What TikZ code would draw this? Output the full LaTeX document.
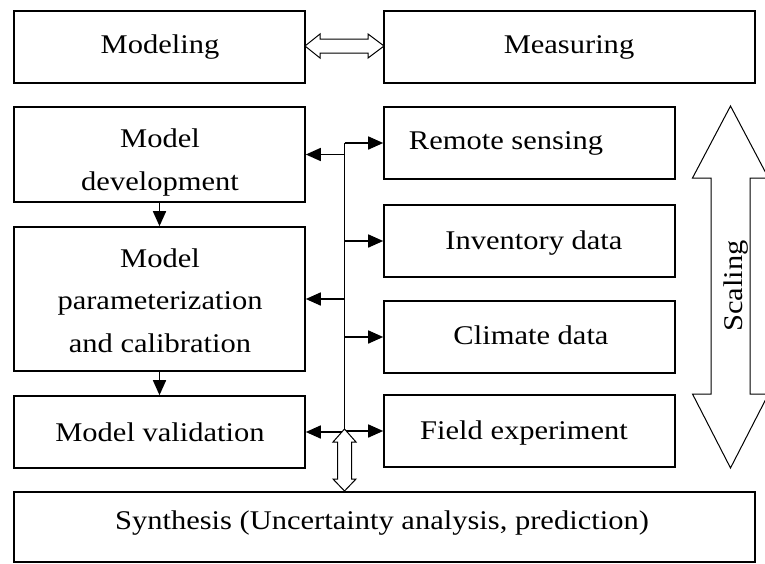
\documentclass[tikz,border=0pt]{standalone}
\usepackage{fontspec}
\setmainfont[FakeStretch=1.13]{Liberation Serif}
\usetikzlibrary{arrows.meta}
\begin{document}
\begin{tikzpicture}[x=1pt,y=-1pt,
  box/.style={draw,line width=1.6pt,inner sep=0pt,minimum width=291pt,minimum height=72pt},
  lbl/.style={anchor=base,align=center,inner sep=0pt,font=\fontsize{27}{42.5}\selectfont},
  arr/.style={line width=1.6pt,-{Triangle[length=15pt,width=13pt]}},
  hollow/.style={draw,line width=1pt,fill=white,line join=miter}]
\useasboundingbox (0,0) rectangle (765,563);
% boxes
\node[box,minimum width=291pt] (mdl) at (159.5,47) {};
\node[box,minimum width=371pt] (meas) at (569.5,47) {};
\node[box,minimum height=95pt] (dev) at (159.5,154.5) {};
\node[box,minimum height=144pt] (par) at (159.5,299) {};
\node[box] (val) at (159.5,432) {};
\node[box] (rs) at (529.5,143) {};
\node[box] (inv) at (529.5,241) {};
\node[box] (clim) at (529.5,337) {};
\node[box] (fld) at (529.5,431) {};
\node[box,minimum width=741pt,minimum height=70pt] (syn) at (384.5,527) {};
% labels
\node[lbl] (tmdl) at (160,53) {Modeling};
\node[lbl] (tmeas) at (569,53) {Measuring};
\node[lbl] (tdev) at (160,190) {Model\\development};
\node[lbl] (tpar) at (160,352) {Model\\parameterization\\and calibration};
\node[lbl] (tval) at (160,441) {Model validation};
\node[lbl] (trs) at (506,149) {Remote sensing};
\node[lbl] (tinv) at (534,249) {Inventory data};
\node[lbl] (tclim) at (531,344) {Climate data};
\node[lbl] (tfld) at (524,439) {Field experiment};
\node[lbl] (tsyn) at (382,529) {Synthesis (Uncertainty analysis, prediction)};
% bus
\coordinate (bt) at (344.5,143);
\coordinate (bb) at (344.5,432);
\draw[line width=1.6pt] (bt) -- (bb);
\draw[arr] (bt) -- (rs.west);
\draw[arr] (bt |- inv.west) -- (inv.west);
\draw[arr] (bt |- clim.west) -- (clim.west);
\draw[arr] (bt |- fld.west) -- (fld.west);
\draw[arr] (bt |- dev.east) -- (dev.east);
\draw[arr] (bt |- par.east) -- (par.east);
\draw[arr] (bt |- val.east) -- (val.east);
\draw[arr] (dev.south) -- (par.north);
\draw[arr] (par.south) -- (val.north);
% hollow double arrow Modeling <-> Measuring
\draw[hollow] (305,46) -- (320,34) -- (320,39) -- (368,39) -- (368,34) -- (384,46)
  -- (368,58) -- (368,53) -- (320,53) -- (320,58) -- cycle;
% hollow vertical double arrow to Synthesis
\draw[hollow] (344.5,429) -- (356,442) -- (351.5,442) -- (351.5,479) -- (356,479) -- (344.5,491)
  -- (333,479) -- (337.5,479) -- (337.5,442) -- (333,442) -- cycle;
% Scaling arrow
\draw[hollow] (730.5,106) -- (768.5,178) -- (750,178) -- (750,394) -- (768.5,394) -- (730.5,468)
  -- (692.5,394) -- (711,394) -- (711,178) -- (692.5,178) -- cycle;
\node[lbl,rotate=90] (tscl) at (742,286) {Scaling};
\end{tikzpicture}
\end{document}
